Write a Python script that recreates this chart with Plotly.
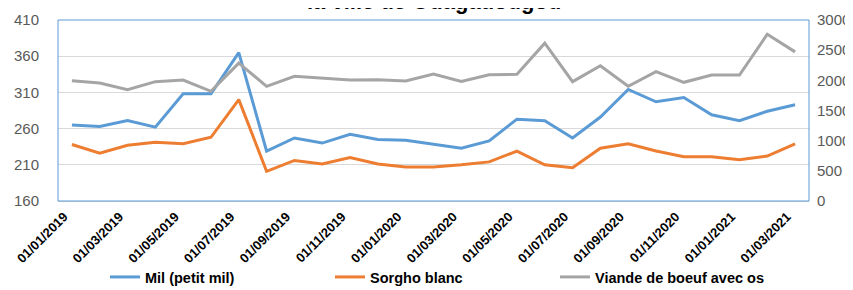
import plotly.graph_objects as go

dates = ["01/01/2019", "01/02/2019", "01/03/2019", "01/04/2019", "01/05/2019", "01/06/2019",
         "01/07/2019", "01/08/2019", "01/09/2019", "01/10/2019", "01/11/2019", "01/12/2019",
         "01/01/2020", "01/02/2020", "01/03/2020", "01/04/2020", "01/05/2020", "01/06/2020",
         "01/07/2020", "01/08/2020", "01/09/2020", "01/10/2020", "01/11/2020", "01/12/2020",
         "01/01/2021", "01/02/2021", "01/03/2021"]

mil = [265, 263, 271, 262, 308, 308, 365, 229, 247, 240, 252, 245, 244, 239, 233, 243,
       273, 271, 247, 276, 314, 297, 303, 279, 271, 284, 293]
sorgho = [238, 226, 237, 241, 239, 248, 300, 201, 216, 211, 220, 211, 207, 207, 210, 214,
          229, 210, 206, 233, 239, 229, 221, 221, 217, 222, 239]
viande = [1994, 1956, 1846, 1978, 2005, 1818, 2286, 1901, 2066, 2033, 2005, 2011, 1989, 2104,
          1983, 2093, 2099, 2615, 1978, 2242, 1901, 2143, 1967, 2088, 2088, 2764, 2472]

tick_labels = dates[::2]
title_text = "la ville de Ouagadougou"

FONT = "Liberation Sans"

fig = go.Figure()
fig.add_trace(go.Scatter(x=dates, y=mil, name="Mil (petit mil)", mode="lines",
                         line=dict(color="#5B9BD5", width=3)))
fig.add_trace(go.Scatter(x=dates, y=sorgho, name="Sorgho blanc", mode="lines",
                         line=dict(color="#ED7D31", width=3)))
fig.add_trace(go.Scatter(x=dates, y=viande, name="Viande de boeuf avec os", mode="lines",
                         line=dict(color="#A5A5A5", width=3), yaxis="y2"))

fig.update_layout(
    width=853, height=290,
    margin=dict(l=50, r=52, t=12, b=97, autoexpand=False),
    paper_bgcolor="white", plot_bgcolor="white",
    font=dict(family=FONT, color="#595959"),
    xaxis=dict(type="category", range=[-0.5, len(dates) - 0.5],
               tickmode="array", tickvals=tick_labels, ticktext=tick_labels,
               tickangle=-45, tickfont=dict(size=13, color="black", weight="bold"),
               ticklabelshift=-8, ticklabelstandoff=2,
               showgrid=False, showline=True, linecolor="#D9D9D9", linewidth=1,
               ticks="", zeroline=False, automargin=False),
    yaxis=dict(range=[160, 410], dtick=50, tick0=160, showgrid=True, gridcolor="#D9D9D9",
               gridwidth=1, zeroline=False, showline=False, ticks="",
               tickfont=dict(size=15, color="#595959"), ticklabelstandoff=18,
               automargin=False),
    yaxis2=dict(range=[0, 3000], dtick=500, overlaying="y", side="right", showgrid=False,
                zeroline=False, showline=False, ticks="",
                tickfont=dict(size=15, color="#595959"), ticklabelstandoff=7,
                automargin=False),
    legend=dict(orientation="h", x=97 / 853, xanchor="left", xref="container",
                y=21 / 290, yanchor="middle", yref="container",
                font=dict(size=14.5, color="black", weight="bold"),
                entrywidth=180, entrywidthmode="pixels", traceorder="normal",
                bgcolor="rgba(0,0,0,0)"),
    showlegend=True,
)

fig.add_annotation(text=title_text, xref="paper", yref="paper", x=0.5, y=1,
                   xanchor="center", yanchor="bottom", yshift=4, showarrow=False,
                   font=dict(family=FONT, size=22, color="black", weight="bold"))

fig.add_shape(type="rect", xref="paper", yref="paper", x0=0, x1=1, y0=0, y1=1,
              line=dict(color="#5B9BD5", width=1), fillcolor="rgba(0,0,0,0)", layer="above")

fig.write_html("out.html")
